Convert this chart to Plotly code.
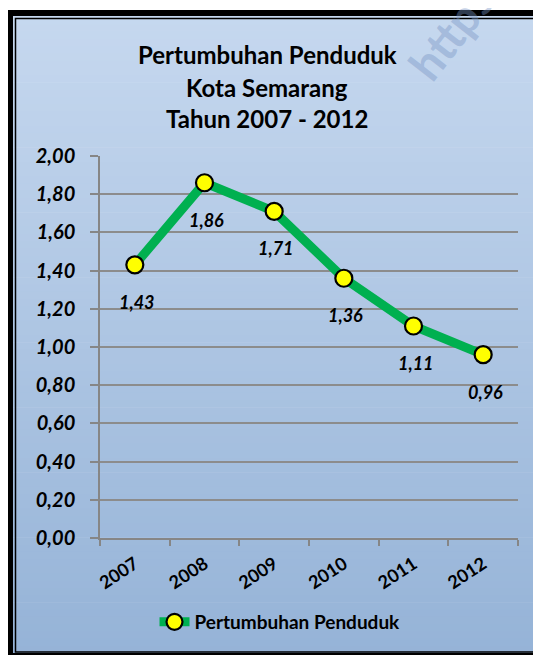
import plotly.graph_objects as go

years = ["2007", "2008", "2009", "2010", "2011", "2012"]
growth = [1.43, 1.86, 1.71, 1.36, 1.11, 0.96]
label_text = ["1,43", "1,86", "1,71", "1,36", "1,11", "0,96"]
series_name = "Pertumbuhan Penduduk"
title_lines = ["Pertumbuhan Penduduk", "Kota Semarang", "Tahun 2007 - 2012"]

OFF = 8  # default body margin of the html page
W, H = 541 - OFF, 655 - OFF
L, T = 100 - OFF, 156 - OFF
PW, PH = 418, 382
R, B = W - L - PW, H - T - PH
FONT = "Lato, 'Open Sans', sans-serif"


def px(x):  # page pixel -> paper x
    return (x - OFF - L) / PW


def py(y):  # page pixel -> paper y
    return (T + PH - (y - OFF)) / PH


fig = go.Figure()
fig.add_trace(go.Scatter(
    x=years, y=growth, mode="lines+markers", name=series_name,
    line=dict(color="#00B050", width=9),
    marker=dict(size=17, color="#FFFF00", line=dict(color="black", width=2.2)),
    hoverinfo="x+y",
))

annotations = []
for i, (yv, t) in enumerate(zip(growth, label_text)):
    annotations.append(dict(
        x=i, y=yv, xref="x", yref="y", text=t, showarrow=False,
        yshift=-37, xshift=2,
        font=dict(family=FONT, size=18, color="black", weight="bold", style="italic"),
    ))

title_y = [55, 87, 118]
for t, ty in zip(title_lines, title_y):
    annotations.append(dict(
        x=px(267), y=py(ty), xref="paper", yref="paper", text=t, showarrow=False,
        xanchor="center", yanchor="middle",
        font=dict(family=FONT, size=24, color="black", weight="bold"),
    ))

# watermark
annotations.append(dict(
    x=px(450), y=py(32), xref="paper", yref="paper", text="https", showarrow=False,
    textangle=-52, xanchor="center", yanchor="middle",
    font=dict(family=FONT, size=46, color="rgba(120,148,196,0.42)", weight="bold"),
))

shapes = []
# gradient background strips
top_c = (198, 216, 239)
bot_c = (149, 179, 215)
y0, y1 = 10, 660
n = 90
for i in range(n):
    a = y0 + (y1 - y0) * i / n
    b = y0 + (y1 - y0) * (i + 1) / n + 0.6
    f = i / (n - 1)
    c = tuple(round(top_c[k] + (bot_c[k] - top_c[k]) * f) for k in range(3))
    shapes.append(dict(
        type="rect", xref="paper", yref="paper", layer="below",
        x0=px(8), x1=px(560), y0=py(a), y1=py(b),
        line=dict(width=0), fillcolor="rgb(%d,%d,%d)" % c,
    ))
# outer thick frame
shapes.append(dict(
    type="rect", xref="paper", yref="paper", layer="above",
    x0=px(10), x1=px(542), y0=py(13), y1=py(656),
    line=dict(color="black", width=6), fillcolor="rgba(0,0,0,0)",
))
# inner thin frame
shapes.append(dict(
    type="rect", xref="paper", yref="paper", layer="above",
    x0=px(15.5), x1=px(537), y0=py(18.5), y1=py(652),
    line=dict(color="black", width=1.5), fillcolor="rgba(0,0,0,0)",
))

fig.update_layout(
    width=W, height=H,
    margin=dict(l=L, r=R, t=T, b=B, pad=0),
    paper_bgcolor="white", plot_bgcolor="white",
    separators=",.",
    showlegend=True,
    legend=dict(
        orientation="h", x=px(280), y=py(622), xanchor="center", yanchor="middle",
        font=dict(family=FONT, size=19, color="black", weight="bold"),
        bgcolor="rgba(0,0,0,0)",
    ),
    annotations=annotations,
    shapes=shapes,
    font=dict(family=FONT),
)
fig.update_xaxes(
    type="category", range=[-0.5, len(years) - 0.5], tickson="boundaries",
    ticks="outside", ticklen=6,
    tickcolor="#868686", tickwidth=1.5, showline=True, linecolor="#868686", linewidth=1.5,
    showgrid=False, tickangle=-33, ticklabelstandoff=7,
    tickfont=dict(family=FONT, size=18, color="black", weight="bold"),
)
fig.update_yaxes(
    range=[0, 2], dtick=0.2, tickformat=".2f", ticks="outside", ticklen=8,
    tickcolor="#868686", tickwidth=1.5, showline=True, linecolor="#868686", linewidth=1.5,
    showgrid=True, gridcolor="#8c8c8c", gridwidth=1.5, zeroline=False,
    ticklabelstandoff=11,
    tickfont=dict(family=FONT, size=20, color="black", weight="bold", style="italic"),
)

fig.write_html("out.html")
